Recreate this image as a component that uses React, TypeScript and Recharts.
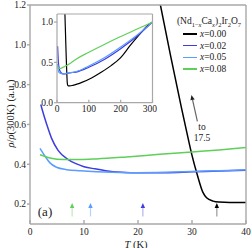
import React from "react";
import { LineChart, Line, XAxis, YAxis, ReferenceLine } from "recharts";

const FONT = '"Liberation Serif", "DejaVu Serif", serif';
const FRAME = "#a8a8a8";
const TEXT = "#222";

const compositions = ["0.00", "0.02", "0.05", "0.08"];
const colors = ["#000000", "#3d3de0", "#5a9cff", "#5fcf5a"];
const arrowStems = ["#9a9a9a", "#b4b4f0", "#b2d4ff", "#bfe8bc"];

// x = 0.00
const tempX000 = [20, 22, 24, 26, 28, 29, 30, 31, 32, 32.7, 33.9, 35, 37, 40, 50, 80, 110, 140, 170, 200, 230, 260, 280, 300];
const rhoX000 = [1.9, 1.5, 1.22, 0.95, 0.69, 0.565, 0.445, 0.345, 0.26, 0.232, 0.215, 0.21, 0.208, 0.208, 0.215, 0.255, 0.31, 0.38, 0.46, 0.56, 0.71, 0.85, 0.94, 1.0];
// x = 0.02
const tempX002 = [2, 2.2, 3.1, 4, 5.2, 7, 8.5, 10, 12, 14, 17, 20, 25, 30, 35, 40, 60, 100, 150, 200, 250, 300];
const rhoX002 = [0.7, 0.68, 0.6, 0.53, 0.47, 0.425, 0.403, 0.388, 0.377, 0.368, 0.36, 0.357, 0.358, 0.362, 0.366, 0.37, 0.38, 0.44, 0.54, 0.67, 0.82, 1.0];
// x = 0.05
const tempX005 = [1.85, 2.8, 3.7, 4.9, 6.8, 9.3, 12.3, 17.9, 20, 25, 30, 35, 40, 60, 100, 150, 200, 250, 300];
const rhoX005 = [0.48, 0.44, 0.407, 0.385, 0.373, 0.367, 0.362, 0.358, 0.358, 0.36, 0.364, 0.368, 0.372, 0.385, 0.455, 0.56, 0.69, 0.835, 1.0];
// x = 0.08
const tempX008 = [1.85, 3.7, 6.2, 9.3, 12.3, 17.9, 24, 30, 35, 40, 60, 100, 150, 200, 250, 300];
const rhoX008 = [0.448, 0.432, 0.424, 0.424, 0.427, 0.437, 0.45, 0.462, 0.472, 0.484, 0.54, 0.625, 0.725, 0.82, 0.91, 1.0];

// arrows marking the transition temperatures (K)
const arrowTemps = [34.6, 20.9, 11.2, 7.8];

const MAIN_T_TICKS = [0, 10, 20, 30, 40];
const MAIN_RHO_TICKS = [0.2, 0.4, 0.6, 0.8, 1.0, 1.2];
const INSET_T_TICKS = [0, 100, 200, 300];
const INSET_RHO_TICKS = [0, 0.5, 1.0];

const toPoints = (t: number[], r: number[]) => t.map((T, i) => ({ T, rho: r[i] }));
const series = [
  toPoints(tempX000, rhoX000),
  toPoints(tempX002, rhoX002),
  toPoints(tempX005, rhoX005),
  toPoints(tempX008, rhoX008),
];

const tickStyle = { fontSize: 9.5, fill: TEXT, fontFamily: FONT };

function arrowShape(head: string, stem: string) {
  return (p: any) => {
    const { x1, y1, x2, y2 } = p;
    const dx = x2 - x1;
    const dy = y2 - y1;
    const len = Math.hypot(dx, dy) || 1;
    const ux = dx / len;
    const uy = dy / len;
    const hl = 5;
    const hw = 2.2;
    const bx = x2 - ux * hl;
    const by = y2 - uy * hl;
    return (
      <g>
        <line x1={x1} y1={y1} x2={bx} y2={by} stroke={stem} strokeWidth={1.2} />
        <polygon
          points={`${x2},${y2} ${bx - uy * hw},${by + ux * hw} ${bx + uy * hw},${by - ux * hw}`}
          fill={head}
        />
      </g>
    );
  };
}

const YLabel = (props: any) => {
  const { viewBox } = props;
  const cy = viewBox.y + viewBox.height / 2 - 1;
  return (
    <text x={10} y={cy} transform={`rotate(-90 10 ${cy})`} textAnchor="middle" dominantBaseline="central"
      fontSize={10.5} fontFamily={FONT} fill={TEXT}>
      <tspan fontStyle="italic">ρ</tspan>/<tspan fontStyle="italic">ρ</tspan>(300K) (a.u.)
    </text>
  );
};

const XLabel = (props: any) => {
  const { viewBox } = props;
  const cx = viewBox.x + viewBox.width / 2 - 2;
  return (
    <text x={cx} y={244} textAnchor="middle" dominantBaseline="central" fontSize={10.5} fontFamily={FONT} fill={TEXT}>
      <tspan fontStyle="italic">T</tspan> (K)
    </text>
  );
};

function Inset() {
  return (
    <LineChart width={130} height={120} margin={{ top: 9, right: 4.5, bottom: 0, left: 0 }}>
      <XAxis xAxisId="b" dataKey="T" type="number" domain={[0, 300]} ticks={INSET_T_TICKS}
        allowDataOverflow height={22.3} stroke={FRAME} strokeWidth={1.2} tickSize={-3} tickMargin={5.8} tick={tickStyle} />
      <XAxis xAxisId="t" orientation="top" mirror type="number" domain={[0, 300]} ticks={INSET_T_TICKS}
        stroke={FRAME} strokeWidth={1.2} tickSize={3} tick={false} />
      <YAxis yAxisId="l" type="number" domain={[0, 1.1]} ticks={INSET_RHO_TICKS} allowDataOverflow width={30}
        stroke={FRAME} strokeWidth={1.2} tickSize={3} tickMargin={1} tick={tickStyle}
        tickFormatter={(v: number) => v.toFixed(1)} />
      <YAxis yAxisId="r" orientation="right" mirror type="number" domain={[0, 1.1]} ticks={INSET_RHO_TICKS}
        stroke={FRAME} strokeWidth={1.2} tickSize={3} tick={false} />
      {series.map((d, i) => (
        <Line key={i} xAxisId="b" yAxisId="l" data={d} dataKey="rho" type="monotone" stroke={colors[i]}
          strokeWidth={1.2} dot={false} isAnimationActive={false} />
      ))}
    </LineChart>
  );
}

function Legend() {
  return (
    <div style={{ position: "absolute", left: 168, top: 15, width: 82, fontFamily: FONT, fontSize: 9.5, color: TEXT }}>
      <div style={{ textAlign: "center", height: 13, lineHeight: "13px" }}>
        (Nd<sub style={{ fontSize: 6.5 }}>1−<i>x</i></sub>Ca<sub style={{ fontSize: 6.5 }}><i>x</i></sub>)
        <sub style={{ fontSize: 6.5 }}>2</sub>Ir<sub style={{ fontSize: 6.5 }}>2</sub>O<sub style={{ fontSize: 6.5 }}>7</sub>
      </div>
      {compositions.map((c, i) => (
        <div key={c} style={{ display: "flex", alignItems: "center", height: 11.8, marginLeft: 15 }}>
          <div style={{ width: 14, height: 1.6, background: colors[i], marginRight: 3 }} />
          <span><i>x</i>=<span>{c}</span></span>
        </div>
      ))}
    </div>
  );
}

export default function App() {
  return (
    <div style={{ position: "absolute", left: 0, top: 0, width: 252, height: 248, background: "#fff" }}>
      <LineChart width={252} height={248} margin={{ top: 5, right: 6, bottom: 0, left: 0 }}>
        <XAxis xAxisId="b" dataKey="T" type="number" domain={[0, 40]} ticks={MAIN_T_TICKS} allowDataOverflow
          height={24} stroke={FRAME} strokeWidth={1.4} tickSize={-4} tickMargin={8.5} tick={tickStyle}
          label={{ content: XLabel }} />
        <XAxis xAxisId="t" orientation="top" mirror type="number" domain={[0, 40]} ticks={MAIN_T_TICKS}
          stroke={FRAME} strokeWidth={1.4} tickSize={4} tick={false} />
        <YAxis yAxisId="l" type="number" domain={[0.1, 1.2]} ticks={MAIN_RHO_TICKS} allowDataOverflow width={30}
          stroke={FRAME} strokeWidth={1.4} tickSize={3} tickMargin={1} tick={tickStyle}
          tickFormatter={(v: number) => v.toFixed(1)} label={{ content: YLabel }} />
        <YAxis yAxisId="r" orientation="right" mirror type="number" domain={[0.1, 1.2]} ticks={MAIN_RHO_TICKS}
          stroke={FRAME} strokeWidth={1.4} tickSize={4} tick={false} />
        {series.map((d, i) => (
          <Line key={i} xAxisId="b" yAxisId="l" data={d} dataKey="rho" type="monotone" stroke={colors[i]}
            strokeWidth={1.5} dot={false} isAnimationActive={false} />
        ))}
        {arrowTemps.map((t, i) => (
          <ReferenceLine key={`a${i}`} xAxisId="b" yAxisId="l" segment={[{ x: t, y: 0.138 }, { x: t, y: 0.205 }]}
            shape={arrowShape(colors[i], arrowStems[i])} />
        ))}
        <ReferenceLine xAxisId="b" yAxisId="l" segment={[{ x: 31.0, y: 0.616 }, { x: 29.9, y: 0.748 }]}
          shape={arrowShape("#222", "#666")} />
      </LineChart>
      <div style={{ position: "absolute", left: 27, top: 5 }}>
        <Inset />
      </div>
      <Legend />
      <div style={{ position: "absolute", left: 186, top: 122, width: 32, textAlign: "center", fontFamily: FONT,
        fontSize: 9.5, lineHeight: "11px", color: TEXT }}>
        to<br />17.5
      </div>
      <div style={{ position: "absolute", left: 30, top: 204, width: 30, textAlign: "center", fontFamily: FONT,
        fontSize: 13, lineHeight: "16px", color: TEXT }}>
        (a)
      </div>
    </div>
  );
}
